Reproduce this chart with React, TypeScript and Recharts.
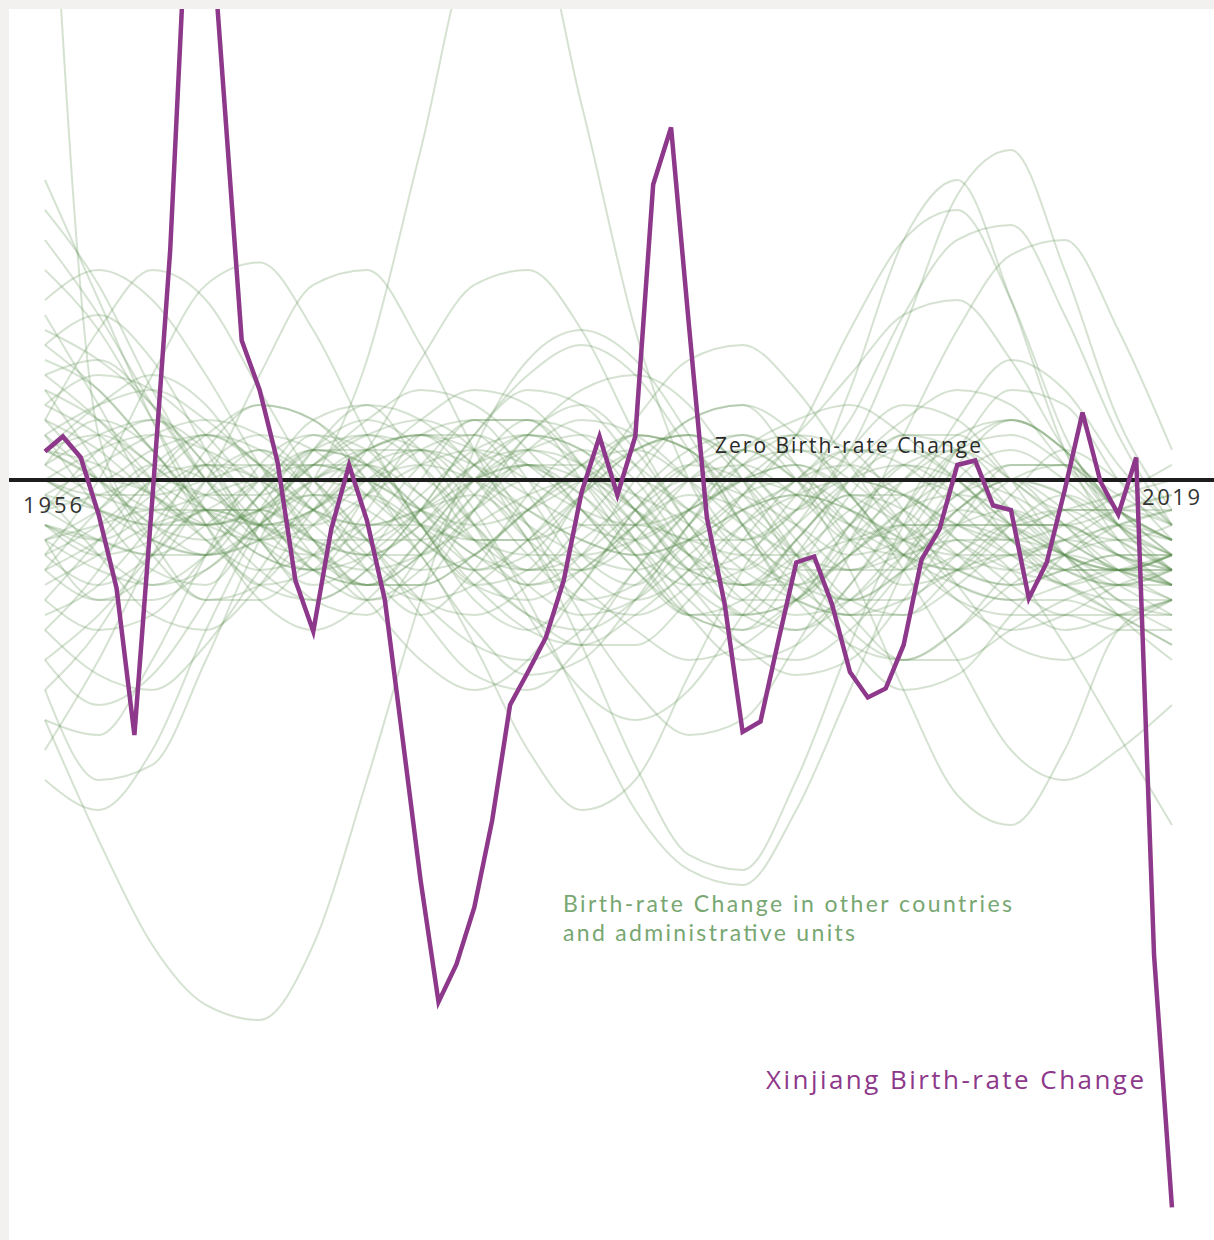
import React from 'react';
import { LineChart, Line, XAxis, YAxis } from 'recharts';

// birth-rate change, Xinjiang, one value per year 1956..2019
const firstYear = 1956;
const xinjiangChange = [
  1.9, 2.9, 1.5, -2.3, -7.2, -17, -1.3, 15.3, 40, 42,
  25.7, 9.3, 6, 1.2, -6.7, -10.1, -3.3, 1, -2.7, -8,
  -17.3, -26.7, -34.8, -32.3, -28.5, -22.7, -15, -12.8, -10.5, -6.7,
  -0.8, 2.9, -1, 2.9, 19.7, 23.5, 10.3, -2.5, -8.3, -16.8,
  -16.1, -10.7, -5.5, -5.1, -8.3, -12.8, -14.5, -13.9, -11, -5.3,
  -3.3, 1, 1.3, -1.7, -2, -7.9, -5.5, -0.7, 4.5, -0.1,
  -2.3, 1.5, -31.7, -48.5,
];

// other countries / administrative units, sampled every 3 years
const otherYears = [
  1956, 1959, 1962, 1965, 1968, 1971, 1974, 1977, 1980, 1983, 1986,
  1989, 1992, 1995, 1998, 2001, 2004, 2007, 2010, 2013, 2016, 2019,
];
const otherUnitsChange = [
  [2, 3, 1, -2, -4, -3, 0, 2, 1, -1, -3, -4, -2, 0, 1, -1, -3, -5, -6, -5, -3, -2],
  [-3, -5, -7, -6, -3, 0, 1, -1, -4, -6, -5, -2, 0, -1, -3, -5, -4, -2, -3, -5, -8, -10],
  [8, 6, 2, -2, -5, -6, -4, -1, 2, 3, 1, -2, -5, -7, -6, -3, 0, 2, 0, -3, -6, -8],
  [-8, -10, -9, -5, -1, 2, 1, -2, -6, -9, -10, -8, -4, -1, 0, -2, -5, -7, -8, -7, -6, -7],
  [14, 10, 4, -2, -6, -8, -6, -2, 3, 6, 5, 1, -4, -8, -10, -8, -4, 1, 4, 2, -2, -4],
  [0, -2, -4, -5, -4, -2, 0, 1, 0, -2, -4, -5, -4, -2, -1, -2, -4, -5, -5, -4, -2, -1],
  [-14, -10, -4, 2, 5, 4, 0, -5, -10, -13, -12, -8, -3, 1, 3, 2, -2, -7, -11, -12, -10, -8],
  [5, 7, 6, 3, -1, -4, -5, -3, 0, 2, 3, 1, -2, -5, -7, -8, -6, -3, 0, 1, -1, -3],
  [20, 12, 4, -3, -8, -10, -8, -4, 0, 2, 1, -2, -6, -9, -10, -7, -2, 4, 8, 6, 1, -3],
  [-20, -22, -18, -10, -3, 2, 4, 2, -3, -9, -14, -16, -14, -9, -4, -1, -2, -5, -8, -10, -9, -8],
  [3, 0, -3, -4, -2, 1, 4, 6, 5, 2, -2, -6, -9, -10, -8, -5, -3, -3, -4, -6, -7, -6],
  [-5, -3, 0, 3, 5, 4, 1, -3, -7, -10, -11, -9, -6, -3, -1, 0, -1, -3, -5, -6, -6, -5],
  [-16, -24, -31, -35, -36, -31, -20, -8, 2, 8, 10, 8, 3, -3, -8, -11, -12, -10, -7, -5, -4, -5],
  [2, 0, -3, -5, -4, 0, 8, 22, 36, 38, 25, 10, 0, -5, -7, -5, -2, 0, -1, -3, -4, -3],
  [50, 3, -4, -8, -8, -5, -1, 2, 3, 1, -2, -5, -7, -6, -3, 0, 1, -1, -4, -6, -6, -5],
  [-6, -4, -1, 1, 0, -3, -6, -8, -7, -4, -1, 2, 3, 1, -2, 2, 10, 19, 22, 14, 4, -2],
  [1, 3, 4, 2, -2, -6, -8, -6, -2, 2, 4, 3, 0, -4, -2, 6, 16, 20, 12, 2, -4, -7],
  [-4, -6, -7, -5, -1, 2, 3, 1, -3, -7, -9, -8, -5, -2, 0, 4, 11, 16, 17, 11, 3, -3],
  [4, 2, -1, -3, -2, 1, 3, 2, -2, -8, -15, -22, -26, -27, -22, -14, -6, 0, 2, 0, -3, -5],
  [-2, -4, -5, -3, 0, 2, 1, -2, -5, -6, -4, -1, 2, 3, 0, -6, -14, -21, -23, -18, -10, -8],
  [4, 10, 14, 12, 6, 0, -4, -6, -5, -2, 1, 2, 0, -3, -5, -6, -5, -4, -4, -5, -7, -9],
  [-5, 0, 7, 13, 14.5, 10, 3, -3, -7, -8, -6, -3, 0, 1, -1, -3, -4, -3, -3, -3, -2, -1],
  [-3, -5, -4, 0, 7, 13, 14, 9, 2, -4, -8, -9, -7, -3, 0, 1, -1, -4, -6, -7, -9, -11],
  [2, 1, -1, -3, -4, -2, 2, 8, 13, 14, 10, 3, -3, -7, -9, -8, -5, -2, 0, -1, -3, -4],
  [-14, -20, -19, -12, -4, 2, 5, 4, 1, -2, -4, -5, -4, -2, -1, -2, -4, -6, -7, -6, -5, -5],
  [6, 4, 1, -1, -1, 1, 3, 4, 2, -3, -9, -14, -17, -16, -11, -5, 0, 3, 4, 2, -2, -5],
  [-1, 1, 3, 4, 3, 0, -4, -8, -11, -12, -10, -6, -2, 2, 4, 5, 3, 0, -3, -5, -6, -6],
  [10, 8, 5, 1, -3, -6, -7, -5, -1, 3, 6, 7, 5, 0, -6, -11, -14, -13, -9, -5, -3, -4],
  [-9, -7, -3, 1, 3, 2, -1, -4, -6, -5, -1, 4, 8, 9, 6, 1, -4, -8, -10, -9, -7, -6],
  [1, -1, -2, -1, 0, 0, -1, -3, -4, -4, -3, -3, -4, -5, -5, -4, -3, -3, -3, -2, -1, 0],
  [-2, -1, 0, -1, -3, -5, -6, -5, -3, -1, 0, -1, -3, -6, -8, -9, -8, -6, -5, -5, -6, -7],
  [12, 14, 12, 7, 1, -4, -7, -7, -5, -2, 0, 0, -2, -4, -6, -6, -4, -1, 1, 1, -2, -4],
  [-10, -13, -14, -11, -6, -1, 2, 3, 1, -3, -7, -10, -12, -11, -8, -4, -1, 0, -2, -5, -8, -9],
  [-4, -3, -2, -2, -3, -4, -4, -2, 1, 3, 2, -1, -5, -8, -8, -4, 3, 10, 15, 16, 10, 2],
  [3, 5, 6, 4, 1, -2, -3, -2, 0, 1, 0, -3, -7, -11, -13, -12, -8, -3, 1, 1, -2, -4],
  [-6, -8, -8, -6, -3, -1, -1, -3, -6, -9, -11, -11, -8, -4, 0, 2, 1, -2, -5, -7, -8, -8],
  [0, 2, 3, 2, 0, -2, -3, -2, -1, -4, -11, -19, -25, -26, -20, -11, -3, 2, 4, 2, -2, -5],
  [16, 11, 5, 0, -3, -3, -1, 1, 2, 1, -1, -4, -6, -5, -2, 1, 4, 6, 5, 1, -3, -5],
  [-18, -12, -5, 0, 2, 0, -4, -9, -13, -14, -11, -6, -2, 1, 2, 0, -3, -6, -7, -6, -5, -5],
  [7, 4, 0, -4, -7, -8, -6, -2, 3, 7, 9, 7, 2, -3, -7, -9, -9, -7, -4, -2, -2, -3],
  [-3, -4, -5, -5, -3, 0, 2, 2, 0, -3, -5, -6, -4, -1, 3, 10, 16, 18, 12, 3, -3, -6],
  [2, 0, -2, -3, -2, 0, 2, 3, 2, 0, -2, -3, -2, 0, 1, -1, -6, -12, -18, -20, -18, -15],
  [-4, -2, 1, 3, 2, -1, -5, -8, -9, -7, -3, 1, 4, 5, 3, -1, -5, -8, -9, -9, -10, -10],
  [9, 6, 2, -2, -5, -6, -5, -2, 1, 2, 0, -4, -8, -11, -12, -10, -6, -2, 0, -1, -4, -6],
  [-1, -2, -3, -3, -2, -1, -2, -5, -11, -18, -22, -20, -13, -6, -1, 2, 2, 0, -3, -5, -6, -6],
  [5, 3, 0, -2, -3, -2, 1, 4, 6, 5, 1, -4, -9, -12, -11, -7, -2, 2, 3, 1, -2, -4],
  [-12, -9, -5, -2, -2, -4, -8, -12, -14, -12, -7, -2, 1, 2, 0, -3, -5, -6, -5, -4, -3, -2],
  [0, -1, -1, 0, 1, 1, 0, -2, -4, -5, -5, -4, -2, 0, 3, 7, 11, 12, 8, 2, -3, -6],
  [18, 13, 6, 0, -4, -5, -3, 1, 4, 4, 1, -3, -7, -9, -8, -5, -2, -1, -2, -4, -6, -7],
  [-7, -5, -3, -2, -3, -5, -7, -7, -5, -2, 1, 3, 2, -1, -5, -9, -12, -12, -10, -8, -7, -8],
  [-2, 2, 4, 1, -4, -6, -2, 3, 4, 0, -5, -7, -3, 2, 3, -1, -5, -6, -3, -1, -3, -6],
  [6, 1, -4, -5, -1, 3, 2, -3, -7, -6, -1, 3, 2, -3, -8, -9, -5, -1, 0, -3, -6, -5],
  [-4, -8, -6, -1, 2, -1, -6, -9, -6, -1, 2, 0, -5, -9, -8, -3, 1, 0, -4, -7, -6, -5],
  [11, 5, -1, -3, 0, 4, 5, 1, -4, -7, -5, 0, 4, 5, 1, -4, -7, -6, -3, -2, -4, -6],
  [-10, -6, 0, 3, 1, -4, -8, -7, -2, 3, 5, 2, -3, -7, -7, -3, 1, 2, -1, -5, -7, -7],
  [1, 4, 2, -3, -7, -6, -1, 3, 3, -1, -6, -8, -6, -1, 2, 1, -3, -7, -8, -8, -9, -9],
  [-6, -2, 1, 0, -4, -8, -9, -5, 0, 3, 2, -2, -6, -7, -4, 0, 2, 1, -3, -6, -7, -6],
  [3, -2, -6, -7, -3, 1, 1, -3, -8, -10, -7, -2, 1, 0, -4, -8, -9, -6, -3, -3, -5, -6],
  [-16, -17, -12, -5, 1, 3, 0, -4, -6, -4, 0, 3, 2, -2, -6, -8, -6, -2, 0, -2, -5, -7],
  [0, 0, 2, 3, 1, -2, -4, -4, -2, 0, 0, -2, -4, -4, -2, 0, -1, -3, -4, -3, -1, 1],
  [-3, -4, -2, 1, 1, -2, -5, -5, -2, 1, 1, -2, -6, -7, -5, -2, 0, -1, -4, -7, -9, -11],
  [9, 11, 8, 2, -4, -7, -5, 0, 4, 4, 0, -5, -9, -9, -5, 0, 3, 2, -2, -5, -6, -5],
  [-8, -4, 0, 1, -2, -6, -7, -4, 0, 1, -2, -6, -9, -8, -4, -1, -1, -4, -7, -9, -9, -8],
  [4, 0, -5, -8, -7, -3, 0, 0, -3, -6, -6, -3, 1, 3, 1, -3, -6, -5, -1, 2, 0, -3],
  [-12, -15, -13, -8, -2, 2, 2, -1, -4, -4, -1, 2, 3, 0, -5, -10, -12, -10, -6, -4, -5, -7],
  [2, 5, 7, 5, 0, -5, -7, -5, -1, 1, -1, -5, -9, -10, -6, -1, 3, 3, 0, -2, -2, -2],
  [-1, -5, -9, -10, -7, -2, 2, 3, 0, -4, -6, -4, 0, 2, 0, -4, -5, -3, -2, -4, -6, -7],
  [7, 8, 5, 0, -3, -2, 1, 2, -1, -5, -8, -7, -3, 0, -1, -4, -3, 2, 6, 5, 0, -4],
  [-5, -7, -5, -2, -2, -4, -5, -3, 1, 4, 3, -1, -5, -6, -3, 2, 5, 4, 0, -5, -9, -12],
  [-2, 0, -1, -4, -6, -5, -3, -3, -5, -7, -6, -3, -1, -2, -5, -8, -8, -5, -3, -3, -5, -6],
  [0, -2, -3, -2, 0, 1, 0, -2, -3, -2, 0, 2, 3, 1, -3, -6, -6, -4, -6, -11, -17, -23],
];

const xDomain = [1953.99, 2021.35];
const yDomain = [-50.67, 31.4];

const xinjiangData = xinjiangChange.map((value, i) => ({ year: firstYear + i, value }));
const otherData = otherUnitsChange.map((series) =>
  series.map((value, i) => ({ year: otherYears[i], value }))
);
const zeroData = [
  { year: xDomain[0], value: 0 },
  { year: xDomain[1], value: 0 },
];

const PURPLE = '#8d388a';
const GREEN_LINE = '#5e8f52';
const GREEN_TEXT = '#78a772';
const FONT = '"Open Sans", Lato, sans-serif';
const FONT_NARROW = 'Lato, "Open Sans", sans-serif';

const Labels = () => (
  <svg
    width={1214}
    height={1240}
    style={{ position: 'absolute', left: 0, top: 0, pointerEvents: 'none' }}
  >
    <text x={23} y={513} fontFamily={FONT} fontSize={22} fill="#333" textLength={59} lengthAdjust="spacing">
      1956
    </text>
    <text x={1142} y={505} fontFamily={FONT} fontSize={22} fill="#333" textLength={58} lengthAdjust="spacing">
      2019
    </text>
    <text x={715} y={453} fontFamily={FONT} fontSize={21} fill="#2a2a2a" textLength={266} lengthAdjust="spacing">
      Zero Birth-rate Change
    </text>
    <text x={563} y={912} fontFamily={FONT_NARROW} fontSize={23} fill={GREEN_TEXT} textLength={449} lengthAdjust="spacing">
      Birth-rate Change in other countries
    </text>
    <text x={563} y={941} fontFamily={FONT_NARROW} fontSize={23} fill={GREEN_TEXT} textLength={292} lengthAdjust="spacing">
      and administrative units
    </text>
    <text x={766} y={1089} fontFamily={FONT} fontSize={26} fill={PURPLE} textLength={378} lengthAdjust="spacing">
      Xinjiang Birth-rate Change
    </text>
  </svg>
);

export default function App() {
  return (
    <div
      style={{
        position: 'fixed',
        left: 0,
        top: 0,
        width: 1214,
        height: 1240,
        background: '#f2f1ef',
        overflow: 'hidden',
      }}
    >
      <div style={{ position: 'absolute', left: 9, top: 9, right: 0, bottom: 0, background: '#fff' }} />
      <div style={{ position: 'absolute', left: 0, top: 0 }}>
        <LineChart width={1214} height={1240} margin={{ top: 9, right: 0, bottom: 0, left: 9 }}>
          <XAxis
            type="number"
            dataKey="year"
            domain={xDomain}
            allowDataOverflow
            hide
          />
          <YAxis type="number" domain={yDomain} allowDataOverflow hide />
          {otherData.map((d, i) => (
            <Line
              key={i}
              data={d}
              dataKey="value"
              type="monotone"
              stroke={GREEN_LINE}
              strokeOpacity={0.26}
              strokeWidth={2}
              dot={false}
              activeDot={false}
              isAnimationActive={false}
            />
          ))}
          <Line
            data={zeroData}
            dataKey="value"
            type="linear"
            stroke="#1d1d1d"
            strokeWidth={4}
            dot={false}
            activeDot={false}
            isAnimationActive={false}
          />
          <Line
            data={xinjiangData}
            dataKey="value"
            type="linear"
            stroke={PURPLE}
            strokeWidth={4.5}
            dot={false}
            activeDot={false}
            isAnimationActive={false}
          />
        </LineChart>
      </div>
      <Labels />
    </div>
  );
}
